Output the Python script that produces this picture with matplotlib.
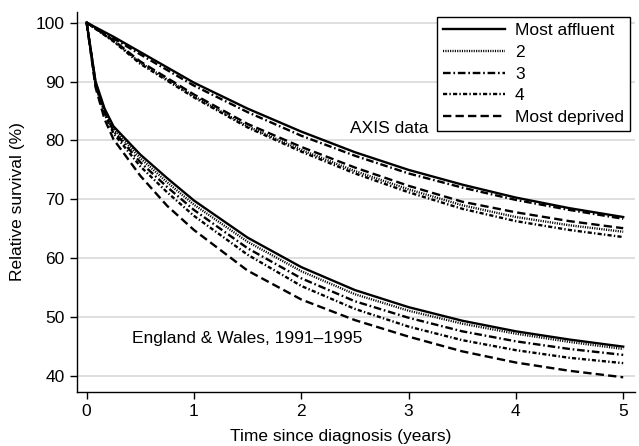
import matplotlib
matplotlib.use("Agg")
import matplotlib.pyplot as plt

plt.rcParams["font.family"] = ["Liberation Sans", "DejaVu Sans"]
plt.rcParams["lines.scale_dashes"] = False

# AXIS data (years since diagnosis, relative survival %)
t_axis = [0, 0.25, 0.5, 1, 1.5, 2, 2.5, 3, 3.5, 4, 4.5, 5]
axis_affluent = [100, 97.6, 95.0, 89.8, 85.4, 81.5, 78.0, 75.0, 72.5, 70.3, 68.5, 67.0]
axis_q2 = [100, 96.9, 93.2, 87.5, 82.4, 78.4, 74.8, 71.7, 69.0, 67.0, 65.6, 64.5]
axis_q3 = [100, 97.3, 94.6, 89.3, 84.8, 80.8, 77.4, 74.4, 72.0, 69.9, 68.2, 66.7]
axis_q4 = [100, 96.8, 93.0, 87.3, 82.2, 78.1, 74.4, 71.2, 68.4, 66.3, 64.8, 63.6]
axis_deprived = [100, 97.0, 93.4, 87.8, 82.8, 78.9, 75.4, 72.3, 69.6, 67.8, 66.3, 65.1]

# England & Wales, 1991-1995
t_ew = [0, 0.083, 0.167, 0.25, 0.5, 0.75, 1, 1.5, 2, 2.5, 3, 3.5, 4, 4.5, 5]
ew_affluent = [100, 90.0, 85.4, 82.4, 77.6, 73.6, 69.8, 63.5, 58.5, 54.6, 51.7, 49.4, 47.6, 46.2, 45.0]
ew_q2 = [100, 89.8, 85.1, 82.0, 77.0, 72.9, 69.1, 62.8, 57.8, 53.9, 51.1, 48.9, 47.2, 45.8, 44.6]
ew_q3 = [100, 89.6, 84.8, 81.6, 76.3, 72.1, 68.2, 61.7, 56.6, 52.7, 49.9, 47.6, 45.9, 44.6, 43.6]
ew_q4 = [100, 89.4, 84.5, 81.2, 75.6, 71.2, 67.2, 60.6, 55.3, 51.4, 48.4, 46.1, 44.4, 43.1, 42.2]
ew_deprived = [100, 89.0, 83.6, 80.2, 74.0, 68.9, 64.8, 57.9, 53.0, 49.5, 46.7, 44.2, 42.3, 40.9, 39.8]

labels = ["Most affluent", "2", "3", "4", "Most deprived"]
styles = ["-", (0, (0.8, 0.9)), (0, (5.5, 2, 1.2, 2)), (0, (3, 1.6, 1, 1.6)), (0, (6, 3))]

fig = plt.figure(figsize=(6.39, 4.46), dpi=100)
ax = fig.add_axes([77 / 639, 1 - 392 / 446, (635 - 77) / 639, (392 - 12) / 446])

axis_series = [axis_affluent, axis_q2, axis_q3, axis_q4, axis_deprived]
ew_series = [ew_affluent, ew_q2, ew_q3, ew_q4, ew_deprived]
lw = 1.7
for lab, ls, ya, ye in zip(labels, styles, axis_series, ew_series):
    ax.plot(t_axis, ya, color="black", linestyle=ls, lw=lw, label=lab)
    ax.plot(t_ew, ye, color="black", linestyle=ls, lw=lw)

ax.set_xlim(-0.09, 5.11)
ax.set_ylim(37.3, 101.8)
ax.set_xticks([0, 1, 2, 3, 4, 5])
ax.set_yticks([40, 50, 60, 70, 80, 90, 100])
ax.grid(axis="y", color="#d6d6d6", lw=1.1)
ax.set_axisbelow(True)
for s in ["top", "right"]:
    ax.spines[s].set_visible(False)
ax.spines["left"].set_linewidth(1.0)
ax.spines["bottom"].set_linewidth(1.0)
ax.tick_params(axis="both", direction="out", length=5, width=1, labelsize=12.5,
               colors="black", pad=4)

ax.set_xlabel("Time since diagnosis (years)", fontsize=12.5)
ax.set_ylabel("Relative survival (%)", fontsize=12.5)
ax.xaxis.set_label_coords((341 - 77) / (635 - 77), -0.097)
ax.yaxis.set_label_coords(-0.093, 0.5)

ax.text(3.19, 82.1, "AXIS data", fontsize=12.5, ha="right", va="center")
ax.text(1.50, 46.3, "England & Wales, 1991\u20131995", fontsize=12.5, ha="center", va="center")

leg = ax.legend(loc="upper right", bbox_to_anchor=(630 / 639, 1 - 17 / 446),
                bbox_transform=fig.transFigure, fontsize=12.5, handlelength=3.55,
                labelspacing=0.38, fancybox=False, framealpha=1, edgecolor="black",
                borderaxespad=0, borderpad=0.35, handletextpad=0.6)
leg.get_frame().set_linewidth(1.0)

fig.savefig("out.png", dpi=100)
